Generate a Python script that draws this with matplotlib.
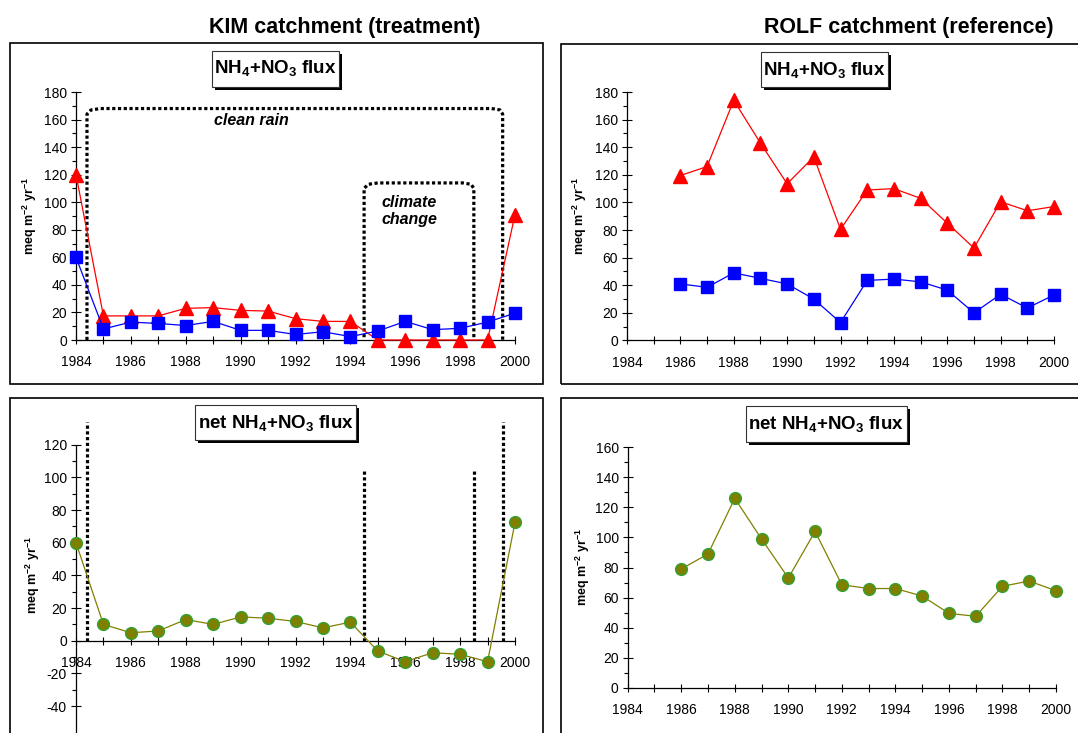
import matplotlib
matplotlib.use('Agg')
import matplotlib.pyplot as plt
from matplotlib.patches import Rectangle
from matplotlib.ticker import MultipleLocator, FixedLocator, FuncFormatter

plt.rcParams['font.family'] = ['Liberation Sans', 'DejaVu Sans']
plt.rcParams['mathtext.default'] = 'regular'
plt.rcParams['axes.unicode_minus'] = False

# KIM catchment (treatment), 1984-2000
years_kim = [1984, 1985, 1986, 1987, 1988, 1989, 1990, 1991, 1992,
             1993, 1994, 1995, 1996, 1997, 1998, 1999, 2000]
kim_in = [120, 17.5, 17.5, 17.5, 23, 23.5, 21.5, 21, 15.5,
          13.5, 13.5, 0, 0, 0, 0, 0, 91]
kim_out = [60, 8, 13, 12, 10.5, 13.5, 7, 7, 4,
           6, 2.5, 6.5, 13.5, 7.5, 8.5, 13, 19.5]
kim_net = [60, 10, 4.9, 6, 13, 10, 14.6, 13.8, 11.8,
           7.9, 11.4, -6.3, -12.8, -7.3, -8.3, -12.8, 72.4]

# ROLF catchment (reference), 1986-2000
years_rolf = [1986, 1987, 1988, 1989, 1990, 1991, 1992, 1993,
              1994, 1995, 1996, 1997, 1998, 1999, 2000]
rolf_in = [119.5, 126, 174, 143, 113.5, 133, 80.5, 109,
           110, 103, 85, 67, 100.5, 94, 97]
rolf_out = [41, 38.5, 49, 45, 41, 30, 13, 43.5,
            44.5, 42.5, 36.5, 20, 33.5, 23.5, 33]
rolf_net = [79, 89, 126, 99, 73, 104, 68.5, 66,
            66, 61, 49.5, 47.5, 67.5, 71, 64.5]

W, H = 1078, 733
fig = plt.figure(figsize=(W / 100, H / 100), dpi=100)

YLAB = 'meq m$^{-2}$ yr$^{-1}$'


def px_axes(x0, x1, y_top, y_bot):
    # axes from pixel edges of the plot area
    return fig.add_axes([x0 / W, 1 - y_bot / H, (x1 - x0) / W, (y_bot - y_top) / H])


def style_axes(ax, ymin, ymax, ymajor, yminor, lab_x, lab_y=0.5):
    ax.set_xlim(1984, 2000)
    ax.set_ylim(ymin, ymax)
    ax.set_facecolor('none')
    for s in ['top', 'right']:
        ax.spines[s].set_visible(False)
    for s in ['left', 'bottom']:
        ax.spines[s].set_linewidth(0.9)
    ax.xaxis.set_major_locator(MultipleLocator(1))
    ax.xaxis.set_major_formatter(FuncFormatter(
        lambda v, p: str(int(round(v))) if int(round(v)) % 2 == 0 else ''))
    ax.yaxis.set_major_locator(FixedLocator(ymajor))
    ax.yaxis.set_minor_locator(FixedLocator(yminor))
    ax.tick_params(axis='x', which='major', direction='inout', length=6,
                   width=0.8, pad=8, labelsize=10)
    ax.tick_params(axis='y', which='major', direction='inout', length=7,
                   width=0.8, pad=3, labelsize=10)
    ax.tick_params(axis='y', which='minor', direction='out', length=3, width=0.8)
    ax.set_ylabel(YLAB, fontsize=9, fontweight='bold')
    ax.yaxis.label.set_verticalalignment('center')
    ax.yaxis.set_label_coords(lab_x, lab_y)


def plot_flux(ax, years, vin, vout):
    ax.plot(years, vin, color='#ff0000', lw=0.9, marker='^', ms=9.5,
            mfc='#ff0000', mec='#ff0000', clip_on=False, zorder=4)
    ax.plot(years, vout, color='#0000ff', lw=0.9, marker='s', ms=8,
            mfc='#0000ff', mec='#0000ff', clip_on=False, zorder=4)


def plot_net(ax, years, vnet):
    ax.plot(years, vnet, color='#808000', lw=0.9, marker='o', ms=8.5,
            mfc='#808000', mec='#33a033', mew=1, clip_on=False, zorder=4)


def dotted(ax, xs, ys):
    ax.plot(xs, ys, color='black', lw=2.3, ls=(0, (1, 0.8)),
            solid_capstyle='butt', dash_capstyle='butt', clip_on=False, zorder=2)


def frame(x0, y0, x1, y1):
    fig.patches.append(Rectangle((x0 / W, 1 - y1 / H), (x1 - x0) / W, (y1 - y0) / H,
                                 transform=fig.transFigure, fill=False,
                                 ec='black', lw=1.2))


def title_box(cx, cy, w, h, label):
    # box with a drop shadow, like the spreadsheet text boxes
    fig.patches.append(Rectangle(((cx - w / 2 + 3) / W, 1 - (cy + h / 2 + 3) / H),
                                 w / W, h / H, transform=fig.transFigure,
                                 fc='black', ec='black', lw=0))
    fig.patches.append(Rectangle(((cx - w / 2) / W, 1 - (cy + h / 2) / H),
                                 w / W, h / H, transform=fig.transFigure,
                                 fc='white', ec='#333333', lw=0.8))
    fig.text(cx / W, 1 - cy / H, label, ha='center', va='center',
             fontsize=13.5, fontweight='bold', zorder=5)


# outer panel frames
frame(10, 43, 543, 384)
frame(561, 44, 1090, 384)
frame(10, 398, 543, 745)
frame(561, 398, 1090, 745)

fig.text(345 / W, 1 - 33 / H, 'KIM catchment (treatment)', ha='center',
         va='baseline', fontsize=15.5, fontweight='bold')
fig.text(909 / W, 1 - 33 / H, 'ROLF catchment (reference)', ha='center',
         va='baseline', fontsize=15.5, fontweight='bold')

# KIM flux
ax1 = px_axes(76, 515, 92, 340)
style_axes(ax1, 0, 180, range(0, 181, 20), range(10, 180, 20), -0.106)
plot_flux(ax1, years_kim, kim_in, kim_out)
dotted(ax1, [1984.4, 1984.4, 1984.55, 1984.9, 1999.15, 1999.45, 1999.55, 1999.55],
       [0, 164, 167, 168, 168, 167, 164, 0])
dotted(ax1, [1994.5, 1994.5, 1994.65, 1995.0, 1998.1, 1998.4, 1998.5, 1998.5],
       [2, 110, 113, 114, 114, 113, 110, 2])
ax1.text(1990.4, 159.6, 'clean rain', ha='center', va='center',
         fontsize=11.5, fontweight='bold', style='italic')
ax1.text(1995.15, 93.6, 'climate\nchange', ha='left', va='center',
         fontsize=11.5, fontweight='bold', style='italic', linespacing=1.2)

# ROLF flux
ax2 = px_axes(627, 1054, 92, 340.5)
style_axes(ax2, 0, 180, range(0, 181, 20), range(10, 180, 20), -0.11)
plot_flux(ax2, years_rolf, rolf_in, rolf_out)

# KIM net flux
ax3 = px_axes(76, 515, 444.7, 738.8)
style_axes(ax3, -60, 120, range(-40, 121, 20), range(-30, 120, 20), -0.098, 100 / 180)
ax3.spines['bottom'].set_position(('data', 0))
plot_net(ax3, years_kim, kim_net)
for xv, ytop in [(1984.4, 134), (1994.5, 104), (1998.5, 104), (1999.55, 134)]:
    dotted(ax3, [xv, xv], [0, ytop])

# ROLF net flux
ax4 = px_axes(627.7, 1056, 447.3, 687.7)
style_axes(ax4, 0, 160, range(0, 161, 20), range(10, 160, 20), -0.105)
plot_net(ax4, years_rolf, rolf_net)

title_box(275, 68.5, 127, 36, 'NH$_4$+NO$_3$ flux')
title_box(824.5, 69.5, 127, 35, 'NH$_4$+NO$_3$ flux')
title_box(275.5, 422.5, 161, 35, 'net NH$_4$+NO$_3$ flux')
title_box(826, 424, 161, 36, 'net NH$_4$+NO$_3$ flux')

fig.savefig('out.png', dpi=100)
